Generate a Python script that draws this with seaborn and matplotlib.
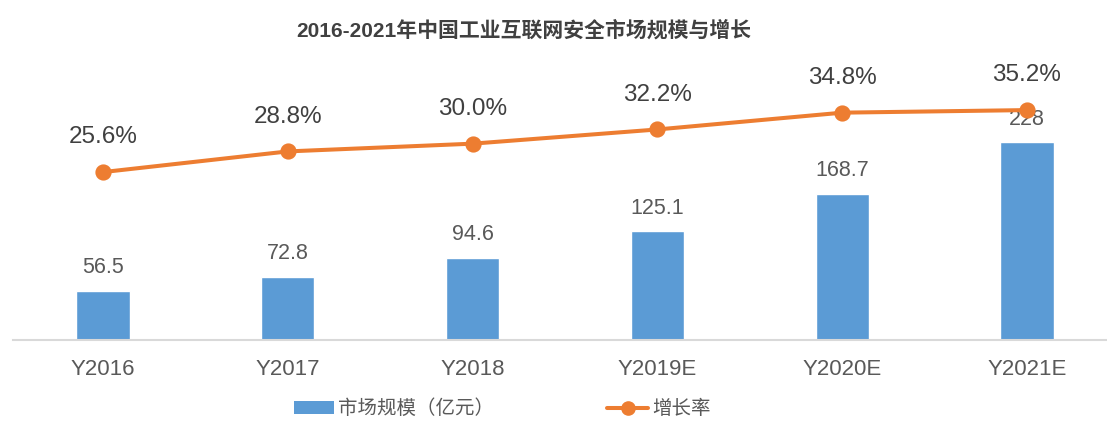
import numpy as np
import pandas as pd
import matplotlib
matplotlib.use("Agg")
import matplotlib.pyplot as plt
from matplotlib.patches import Patch
from matplotlib.lines import Line2D
import seaborn as sns

# chart data
years = ['Y2016', 'Y2017', 'Y2018', 'Y2019E', 'Y2020E', 'Y2021E']
market_size = [56.5, 72.8, 94.6, 125.1, 168.7, 228]
growth_rate = [25.6, 28.8, 30.0, 32.2, 34.8, 35.2]
title = '2016-2021年中国工业互联网安全市场规模与增长'
bar_name = '市场规模（亿元）'
line_name = '增长率'

BLUE = '#5B9BD5'
ORANGE = '#ED7D31'
GRAY = '#595959'
DARK = '#404040'

sns.set_theme(style="white")
plt.rcParams['font.family'] = ['Liberation Sans', 'Noto Sans CJK SC']

df = pd.DataFrame({'year': years, 'size': market_size, 'rate': growth_rate})

W, H = 1107, 421
fig = plt.figure(figsize=(W / 100, H / 100), dpi=100)
ax = fig.add_axes([13 / W, 81 / H, 1 - 13 / W, 310 / H])

sns.barplot(data=df, x='year', y='size', color=BLUE, width=0.287,
            saturation=1, ax=ax, order=years)
ax.bar_label(ax.containers[0], labels=[f'{v:g}' for v in market_size],
             padding=9, fontsize=15.5, color=GRAY)
ax.set_ylim(0, 357)

ax2 = ax.twinx()
sns.pointplot(data=df, x='year', y='rate', order=years, color=ORANGE,
              markers='o', linestyles='-', errorbar=None, ax=ax2,
              linewidth=2.9, markersize=9.5)
for i, v in enumerate(growth_rate):
    ax2.annotate(f'{v:.1f}%', (i, v), xytext=(0, 17), textcoords='offset points',
                 ha='center', va='bottom', fontsize=17.5, color=DARK)
ax2.set_ylim(-0.4, 47.6)

for a in (ax, ax2):
    a.set_xlim(-0.487, 5.433)
    a.set_xlabel('')
    a.set_ylabel('')
    a.set_yticks([])
    for s in a.spines.values():
        s.set_visible(False)
ax.spines['bottom'].set_visible(True)
ax.spines['bottom'].set_color('#D9D9D9')
ax.spines['bottom'].set_linewidth(1.5)
ax.tick_params(axis='x', length=0, pad=14, labelsize=16, labelcolor=GRAY)

fig.text(524 / W, 1 - 30 / H, title, ha='center', va='center',
         fontsize=15, fontweight='bold', color=DARK)

handles = [Patch(facecolor=BLUE, edgecolor='none'),
           Line2D([], [], color=ORANGE, lw=2.9, marker='o', markersize=9.5)]
fig.legend(handles, [bar_name, line_name], loc='center', ncol=2,
           bbox_to_anchor=(502 / W, 12 / H), frameon=False, fontsize=14,
           labelcolor=GRAY, handlelength=2.1, handleheight=0.62,
           handletextpad=0.2, columnspacing=5.8)

fig.savefig('out.png', dpi=100)
